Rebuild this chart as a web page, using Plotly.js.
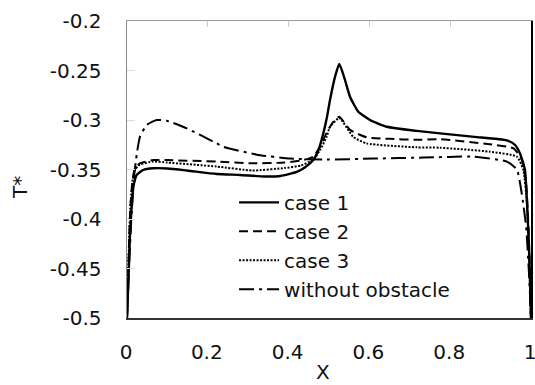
<!DOCTYPE html>
<html>
<head>
<meta charset="utf-8">
<script src="https://cdn.plot.ly/plotly-3.0.1.min.js"></script>
<style>html,body{margin:0;padding:0;background:#fff}#chart{width:535px;height:385px}</style>
</head>
<body>
<div id="chart"></div>
<script>
var seriesNames = ["case 1", "case 2", "case 3", "without obstacle"];

var case1X = [0, 0.004, 0.0075, 0.012, 0.016, 0.024, 0.04, 0.065, 0.1, 0.148, 0.222, 0.28, 0.34, 0.38, 0.42, 0.44, 0.461, 0.475, 0.486, 0.495, 0.5025, 0.515, 0.5255, 0.5396, 0.552, 0.5726, 0.6015, 0.643, 0.717, 0.775, 0.86, 0.94, 0.96, 0.973, 0.985, 0.991, 0.996, 1.0];
var case1Y = [-0.5, -0.455, -0.414, -0.385, -0.367, -0.3556, -0.3505, -0.3488, -0.349, -0.351, -0.3545, -0.3555, -0.357, -0.3565, -0.3525, -0.348, -0.3404, -0.329, -0.3134, -0.297, -0.2798, -0.2562, -0.2434, -0.2596, -0.2765, -0.2916, -0.300, -0.3068, -0.311, -0.3135, -0.317, -0.3205, -0.325, -0.334, -0.3505, -0.391, -0.44, -0.5];

var case2X = [0, 0.004, 0.008, 0.014, 0.02, 0.032, 0.065, 0.1, 0.222, 0.31, 0.39, 0.43, 0.45, 0.461, 0.478, 0.494, 0.511, 0.5255, 0.552, 0.593, 0.65, 0.717, 0.775, 0.898, 0.957, 0.977, 0.988, 0.994, 1.0];
var case2Y = [-0.5, -0.44, -0.39, -0.36, -0.349, -0.3438, -0.3404, -0.3405, -0.342, -0.3437, -0.343, -0.341, -0.339, -0.337, -0.327, -0.313, -0.3017, -0.2967, -0.310, -0.3175, -0.319, -0.320, -0.3195, -0.3245, -0.3286, -0.340, -0.365, -0.41, -0.5];

var case3X = [0, 0.004, 0.008, 0.014, 0.02, 0.032, 0.065, 0.1, 0.222, 0.31, 0.39, 0.43, 0.461, 0.478, 0.494, 0.5025, 0.5255, 0.56, 0.593, 0.717, 0.775, 0.898, 0.965, 0.981, 0.99, 0.995, 1.0];
var case3Y = [-0.5, -0.44, -0.39, -0.36, -0.35, -0.345, -0.342, -0.343, -0.347, -0.351, -0.3485, -0.346, -0.340, -0.3303, -0.317, -0.3068, -0.298, -0.317, -0.3236, -0.3276, -0.328, -0.332, -0.337, -0.3505, -0.385, -0.43, -0.5];

var noObsX = [0, 0.006, 0.012, 0.018, 0.024, 0.032, 0.049, 0.0735, 0.098, 0.148, 0.222, 0.2385, 0.321, 0.404, 0.486, 0.61, 0.735, 0.857, 0.94, 0.965, 0.977, 0.988, 0.995, 1.0];
var noObsY = [-0.5, -0.44, -0.39, -0.355, -0.335, -0.317, -0.305, -0.300, -0.3007, -0.3084, -0.3236, -0.327, -0.335, -0.339, -0.340, -0.339, -0.338, -0.337, -0.342, -0.350, -0.374, -0.408, -0.455, -0.5];

var xTickVals = [0, 0.2, 0.4, 0.6, 0.8, 1];
var xTickText = ["0", "0.2", "0.4", "0.6", "0.8", "1"];
var yTickVals = [-0.5, -0.45, -0.4, -0.35, -0.3, -0.25, -0.2];
var yTickText = ["-0.5", "-0.45", "-0.4", "-0.35", "-0.3", "-0.25", "-0.2"];
var xTitle = "X";
var yTitle = "T*";

var FONT = "DejaVu Sans, sans-serif";

var traces = [
  {x: case1X, y: case1Y, name: seriesNames[0], mode: "lines", line: {color: "#000", width: 2.4, dash: "solid", shape: "spline", smoothing: 0.5}},
  {x: case2X, y: case2Y, name: seriesNames[1], mode: "lines", line: {color: "#000", width: 2, dash: "9px,5px", shape: "spline", smoothing: 0.5}},
  {x: case3X, y: case3Y, name: seriesNames[2], mode: "lines", line: {color: "#000", width: 2, dash: "2px,1.5px", shape: "spline", smoothing: 0.5}},
  {x: noObsX, y: noObsY, name: seriesNames[3], mode: "lines", line: {color: "#000", width: 2, dash: "15px,5px,3px,5px", shape: "spline", smoothing: 0.5}}
];

var layout = {
  width: 535, height: 385,
  margin: {l: 127, r: 4, t: 21, b: 67, pad: 0},
  paper_bgcolor: "#fff", plot_bgcolor: "#fff",
  font: {family: FONT, size: 20, color: "#111"},
  showlegend: true,
  legend: {x: 0.265, y: 0.455, xanchor: "left", yanchor: "top", bgcolor: "rgba(0,0,0,0)",
           font: {family: FONT, size: 20, color: "#111"}, tracegroupgap: 0, itemwidth: 40},
  xaxis: {range: [0, 1], tickvals: xTickVals, ticktext: xTickText, showgrid: false, zeroline: false,
          showline: true, linecolor: "#333", linewidth: 2, ticks: "", ticklabelstandoff: 15,
          ticklabelshift: -1, ticklabeloverflow: "allow"},
  xaxis2: {range: [0, 1], overlaying: "x", side: "top", tickvals: xTickVals, showticklabels: false,
           showgrid: false, zeroline: false, showline: true, linecolor: "#999", linewidth: 1.5,
           ticks: "inside", ticklen: 6, tickcolor: "#ccc", tickwidth: 1},
  yaxis: {range: [-0.5, -0.2], tickvals: yTickVals, ticktext: yTickText, showgrid: false, zeroline: false,
          showline: true, linecolor: "#888", linewidth: 1.5, ticks: "inside", ticklen: 8, tickcolor: "#ddd",
          ticklabelstandoff: 20},
  yaxis2: {range: [-0.5, -0.2], overlaying: "y", side: "right", showticklabels: false, showgrid: false,
           zeroline: false, showline: true, linecolor: "#000", linewidth: 2, ticks: ""},
  annotations: [
    {text: xTitle, xref: "paper", yref: "paper", x: 0.485, y: -0.225, xanchor: "center", yanchor: "bottom",
     borderpad: 0, showarrow: false, font: {family: FONT, size: 20, color: "#111"}},
    {text: yTitle, xref: "paper", yref: "paper", x: -0.265, y: 0.441, xanchor: "center", yanchor: "middle",
     textangle: -90, showarrow: false, font: {family: FONT, size: 20, color: "#111"}}
  ]
};

traces.push({x: [0, 1], y: [-0.5, -0.5], xaxis: "x2", yaxis: "y2", mode: "lines", line: {width: 0}, showlegend: false, hoverinfo: "skip"});

Plotly.newPlot("chart", traces, layout, {staticPlot: true});
</script>
</body>
</html>
